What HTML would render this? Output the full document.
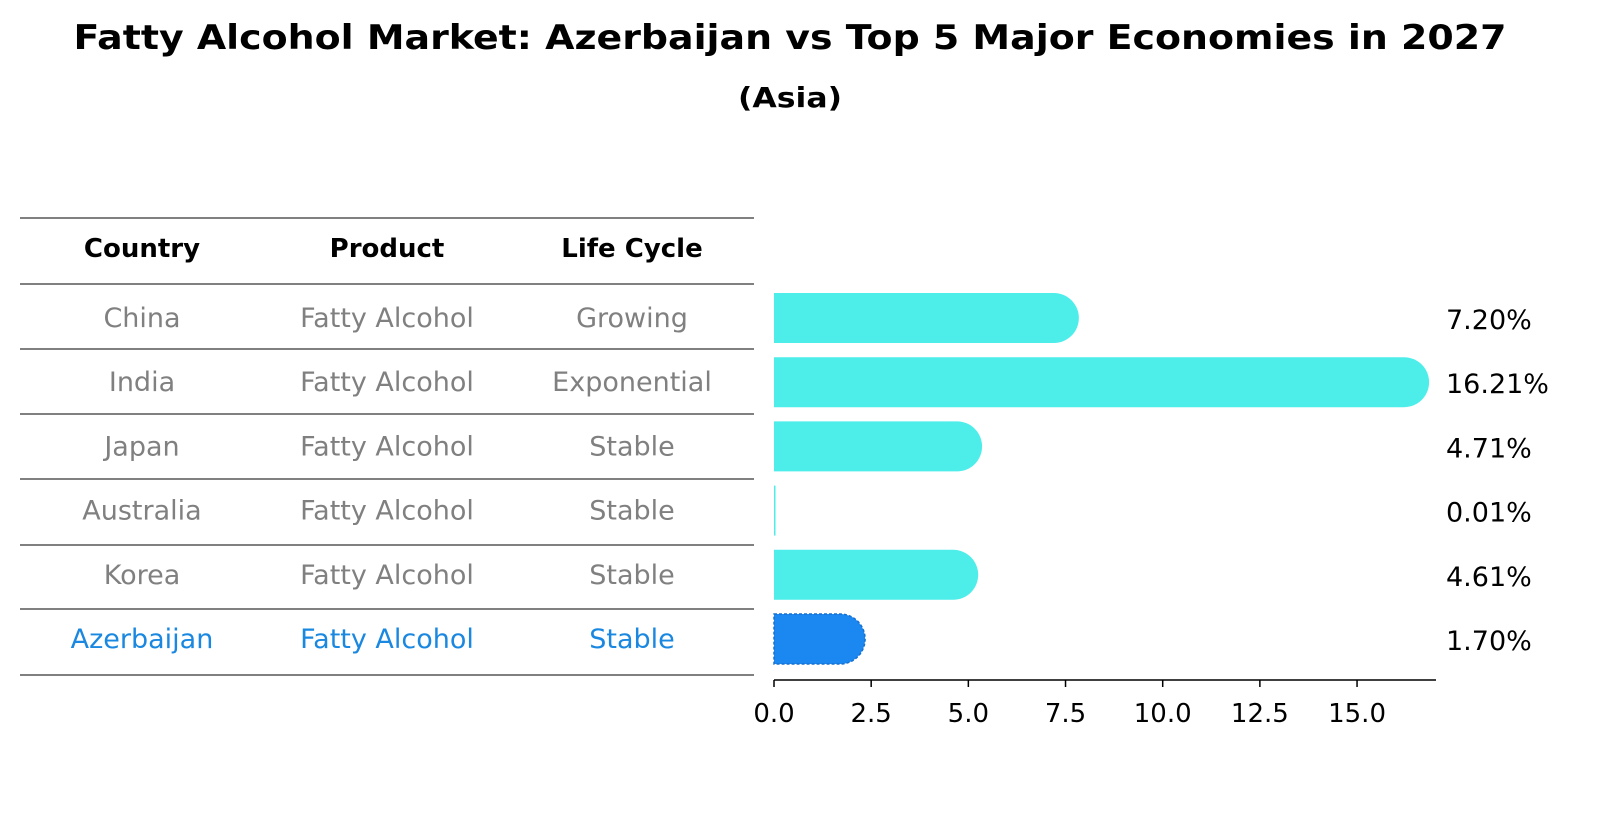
<!DOCTYPE html>
<html><head><meta charset="utf-8"><style>
body{margin:0;background:#fff;font-family:"Liberation Sans","DejaVu Sans",sans-serif;}
</style></head><body>
<svg width="1604" height="823" viewBox="0 0 1604 823" xmlns="http://www.w3.org/2000/svg" font-family="DejaVu Sans, Liberation Sans, sans-serif">
<text x="790" y="49" text-anchor="middle" font-size="34" font-weight="bold" textLength="1433" lengthAdjust="spacingAndGlyphs">Fatty Alcohol Market: Azerbaijan vs Top 5 Major Economies in 2027</text>
<text x="790" y="107" text-anchor="middle" font-size="28" font-weight="bold" textLength="104" lengthAdjust="spacingAndGlyphs">(Asia)</text>
<g id="table"></g>
<g id="bars"></g>
<g id="axis"></g>
</svg>
<script>
const countries=["China","India","Japan","Australia","Korea","Azerbaijan"];
const products=["Fatty Alcohol","Fatty Alcohol","Fatty Alcohol","Fatty Alcohol","Fatty Alcohol","Fatty Alcohol"];
const lifecycles=["Growing","Exponential","Stable","Stable","Stable","Stable"];
const values=[7.20,16.21,4.71,0.01,4.61,1.70];
const ticks=[0,2.5,5,7.5,10,12.5,15];
const NS="http://www.w3.org/2000/svg";
function mk(t,a,p){const e=document.createElementNS(NS,t);for(const k in a)e.setAttribute(k,a[k]);p.appendChild(e);return e;}
const x=v=>774+v*38.87;
const rowY=i=>318+i*64.2;
const tbl=document.getElementById('table');
const lines=[218,284,349,414,479,545,609,675];
lines.forEach(y=>{const l=mk('line',{x1:20,x2:754,y1:y,y2:y,stroke:'#000','stroke-width':1},tbl);

});
const cols=[142,387,632];
["Country","Product","Life Cycle"].forEach((h,j)=>{const t=mk('text',{x:cols[j],y:257,'text-anchor':'middle','font-size':26,'font-weight':'bold'},tbl);t.textContent=h;

});
countries.forEach((c,i)=>{const col=c==="Azerbaijan"?"#1a88e0":"#808080";
[c,products[i],lifecycles[i]].forEach((s,j)=>{const t=mk('text',{x:cols[j],y:rowY(i)+9,'text-anchor':'middle','font-size':27,fill:col},tbl);t.textContent=s;

});});
const bars=document.getElementById('bars');
values.forEach((v,i)=>{const hl=countries[i]==="Azerbaijan";const fill=hl?"#1a88f0":"#4deeea";
const y=rowY(i),h=50,r=25,x0=x(0),x1=x(v);
let el;
if(v<0.5){el=mk('rect',{x:x0,y:y-h/2,width:Math.max(1.5,x1-x0+1),height:h,fill:fill},bars);}
else{el=mk('path',{d:`M${x0},${y-h/2}H${x1}A${r},${r} 0 0 1 ${x1},${y+h/2}H${x0}Z`,fill:fill},bars);
if(hl){el.setAttribute('stroke','#1870d0');el.setAttribute('stroke-dasharray','3,2');el.setAttribute('stroke-width','1.5');}}


const t=mk('text',{x:1446,y:y+11,'font-size':27},bars);t.textContent=v.toFixed(2)+'%';

});
const ax=document.getElementById('axis');
mk('line',{x1:774,x2:1436,y1:680,y2:680,stroke:'#000','stroke-width':1.5},ax);
ticks.forEach(v=>{mk('line',{x1:x(v),x2:x(v),y1:680,y2:687,stroke:'#000','stroke-width':1.5},ax);
const t=mk('text',{x:x(v),y:722,'text-anchor':'middle','font-size':26},ax);t.textContent=v.toFixed(1);

});
</script>
</body></html>
